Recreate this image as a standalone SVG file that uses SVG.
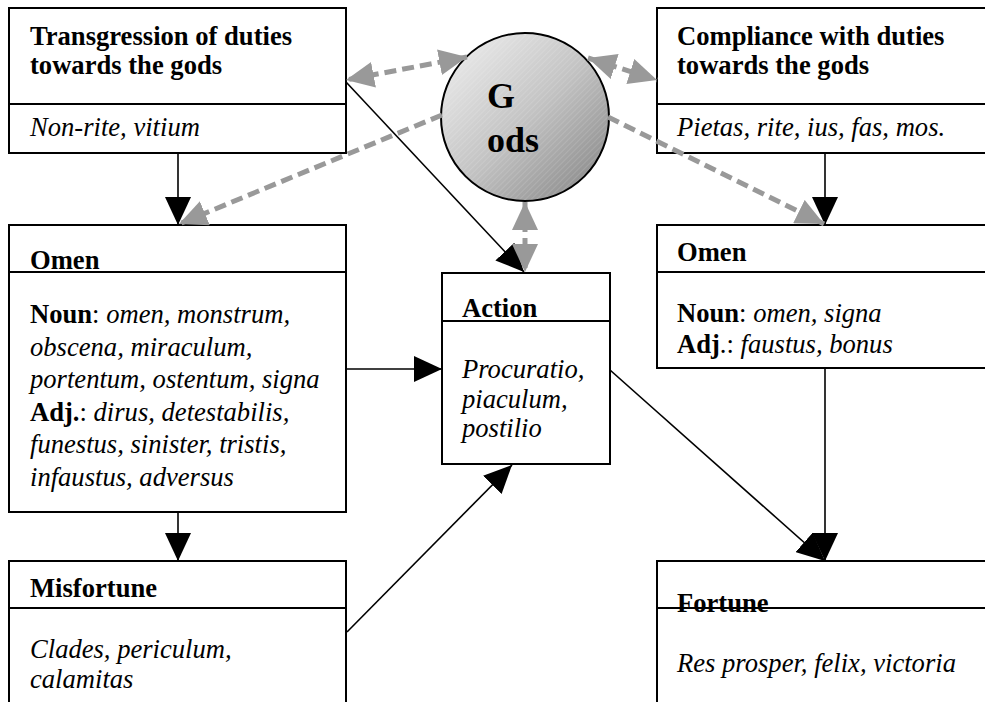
<svg xmlns="http://www.w3.org/2000/svg" width="985" height="702" viewBox="0 0 985 702">
  <style>
    .box { fill: #fff; stroke: #000; stroke-width: 2; }
    .div { stroke: #000; stroke-width: 2; }
    .t { font-family: "Liberation Serif", "Times New Roman", serif; font-size: 26.6px; fill: #000; }
    .b { font-weight: bold; }
    .i { font-style: italic; }
    .solid { stroke: #000; stroke-width: 1.6; fill: none; }
    .dash { stroke: #999; stroke-width: 5; stroke-dasharray: 12 6; fill: none; }
    .godtxt { font-family: "Liberation Serif", "Times New Roman", serif; font-size: 36px; font-weight: bold; fill: #000; }
  </style>
  <defs>
    <marker id="ah" markerUnits="userSpaceOnUse" viewBox="0 0 28 26" markerWidth="28" markerHeight="26" refX="28" refY="13" orient="auto">
      <path d="M0,0 L28,13 L0,26 z" fill="#000"/>
    </marker>
    <marker id="gh" markerUnits="userSpaceOnUse" viewBox="0 0 28 26" markerWidth="28" markerHeight="26" refX="28" refY="13" orient="auto-start-reverse">
      <path d="M0,0 L28,13 L0,26 z" fill="#999"/>
    </marker>
    <linearGradient id="godFill" x1="0" y1="0" x2="1" y2="1">
      <stop offset="0" stop-color="#f2f2f2"/>
      <stop offset="0.5" stop-color="#c4c4c4"/>
      <stop offset="1" stop-color="#808080"/>
    </linearGradient>
    <pattern id="hatch" width="4" height="4" patternUnits="userSpaceOnUse" patternTransform="rotate(45)">
      <line x1="0" y1="0" x2="0" y2="4" stroke="#fff" stroke-opacity="0.25" stroke-width="1"/>
    </pattern>
  </defs>

  <!-- Boxes -->
  <g id="transgression">
    <rect class="box" x="9" y="8" width="337" height="145"/>
    <line class="div" x1="9" y1="104" x2="346" y2="104"/>
    <text class="t b" x="30" y="45">Transgression of duties</text>
    <text class="t b" x="30" y="74">towards the gods</text>
    <text class="t i" x="30" y="136">Non-rite, vitium</text>
  </g>

  <g id="compliance">
    <rect class="box" x="657" y="8" width="400" height="145"/>
    <line class="div" x1="657" y1="104" x2="1057" y2="104"/>
    <text class="t b" x="677" y="45">Compliance with duties</text>
    <text class="t b" x="677" y="74">towards the gods</text>
    <text class="t i" x="677" y="136">Pietas, rite, ius, fas, mos.</text>
  </g>

  <g id="omen-bad">
    <rect class="box" x="9" y="225" width="337" height="287"/>
    <line class="div" x1="9" y1="272" x2="346" y2="272"/>
    <text class="t b" x="30" y="269">Omen</text>
    <text class="t" x="30" y="323"><tspan class="b">Noun</tspan>: <tspan class="i">omen, monstrum,</tspan></text>
    <text class="t i" x="30" y="355.6">obscena, miraculum,</text>
    <text class="t i" x="30" y="388.2">portentum, ostentum, signa</text>
    <text class="t" x="30" y="420.8"><tspan class="b">Adj.</tspan>: <tspan class="i">dirus, detestabilis,</tspan></text>
    <text class="t i" x="30" y="453.4">funestus, sinister, tristis,</text>
    <text class="t i" x="30" y="486">infaustus, adversus</text>
  </g>

  <g id="omen-good">
    <rect class="box" x="657" y="225" width="400" height="143"/>
    <line class="div" x1="657" y1="272" x2="1057" y2="272"/>
    <text class="t b" x="677" y="261">Omen</text>
    <text class="t" x="677" y="322"><tspan class="b">Noun</tspan>: <tspan class="i">omen, signa</tspan></text>
    <text class="t" x="677" y="353"><tspan class="b">Adj</tspan>.: <tspan class="i">faustus, bonus</tspan></text>
  </g>

  <g id="action">
    <rect class="box" x="442" y="273" width="168" height="191"/>
    <line class="div" x1="442" y1="321" x2="610" y2="321"/>
    <text class="t b" x="462" y="317">Action</text>
    <text class="t i" x="462" y="378">Procuratio,</text>
    <text class="t i" x="462" y="408">piaculum,</text>
    <text class="t i" x="462" y="437">postilio</text>
  </g>

  <g id="misfortune">
    <rect class="box" x="9" y="561" width="337" height="200"/>
    <line class="div" x1="9" y1="608" x2="346" y2="608"/>
    <text class="t b" x="30" y="597">Misfortune</text>
    <text class="t i" x="30" y="658">Clades, periculum,</text>
    <text class="t i" x="30" y="688">calamitas</text>
  </g>

  <g id="fortune">
    <rect class="box" x="657" y="561" width="400" height="200"/>
    <text class="t b" x="677" y="612">Fortune</text>
    <line class="div" x1="657" y1="608" x2="1057" y2="608"/>
    <text class="t i" x="677" y="672">Res prosper, felix, victoria</text>
  </g>

  <g id="gods">
    <circle cx="525" cy="117" r="84" fill="url(#godFill)"/>
    <circle cx="525" cy="117" r="84" fill="url(#hatch)" stroke="#000" stroke-width="2"/>
    <text class="godtxt" x="487" y="108">G</text>
    <text class="godtxt" x="487" y="152">ods</text>
  </g>

  <!-- Connectors -->
  <g id="connectors">
    <line class="solid" x1="178" y1="153" x2="178" y2="225" marker-end="url(#ah)"/>
    <line class="solid" x1="178" y1="512" x2="178" y2="561" marker-end="url(#ah)"/>
    <line class="solid" x1="346" y1="369" x2="442" y2="369" marker-end="url(#ah)"/>
    <line class="solid" x1="347" y1="632" x2="512" y2="465" marker-end="url(#ah)"/>
    <line class="solid" x1="346" y1="82" x2="524" y2="272" marker-end="url(#ah)"/>
    <line class="solid" x1="825" y1="153" x2="825" y2="225" marker-end="url(#ah)"/>
    <line class="solid" x1="610" y1="370" x2="825" y2="561" marker-end="url(#ah)"/>
    <line class="solid" x1="825" y1="368" x2="825" y2="561" marker-end="url(#ah)"/>

    <line class="dash" x1="467" y1="57" x2="346" y2="80" marker-start="url(#gh)" marker-end="url(#gh)"/>
    <line class="dash" x1="588" y1="58" x2="657" y2="80" marker-start="url(#gh)" marker-end="url(#gh)"/>
    <line class="dash" x1="442" y1="115" x2="179" y2="224" marker-end="url(#gh)"/>
    <line class="dash" x1="608" y1="117" x2="824" y2="224" marker-end="url(#gh)"/>
    <line class="dash" x1="525" y1="202" x2="525" y2="272" marker-start="url(#gh)" marker-end="url(#gh)"/>
  </g>
</svg>
